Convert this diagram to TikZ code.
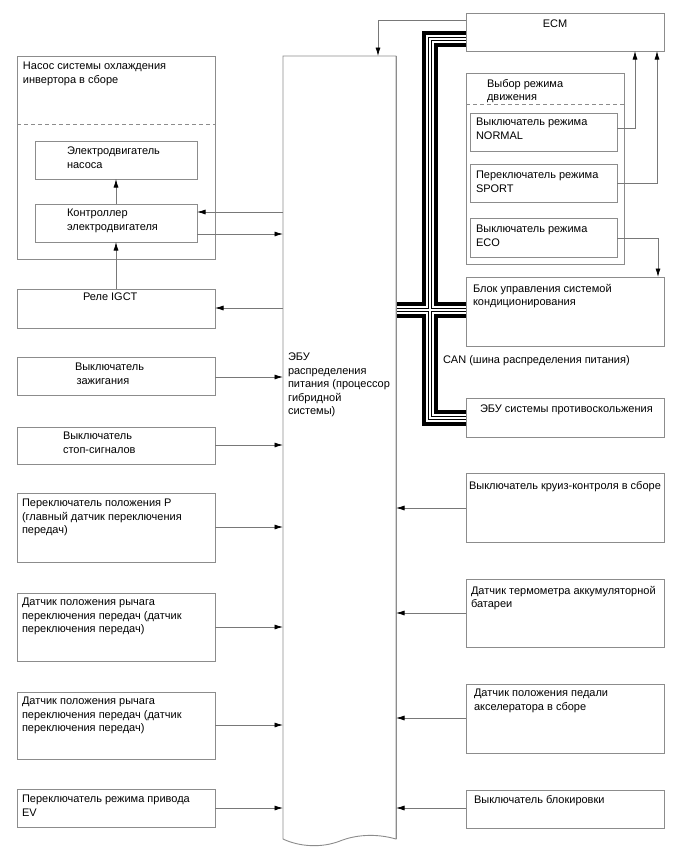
\documentclass[tikz,border=0pt]{standalone}
\usepackage{fontspec}
\setmainfont{Liberation Sans}
\usetikzlibrary{arrows.meta}
\definecolor{boxgray}{RGB}{140,140,140}
\definecolor{linegray}{RGB}{120,120,120}
\begin{document}
\begin{tikzpicture}[x=1pt,y=-1pt,
  box/.style={draw=boxgray, line width=0.9pt, rectangle, inner sep=0pt, outer sep=0pt, anchor=north west},
  lbl/.style={anchor=north west, inner sep=0pt, outer sep=0pt, align=left, font=\fontsize{11}{13.5}\selectfont},
  conn/.style={draw=linegray, line width=0.8pt, -{Latex[length=8.5pt,width=5pt,black]}},
  sep/.style={draw=boxgray, line width=0.9pt, dash pattern=on 4pt off 3pt},
  busA/.style={line width=16pt, black, line join=miter},
  busB/.style={line width=8.5pt, white, line join=miter},
  busC/.style={line width=3.4pt, black, line join=miter},
  busD/.style={line width=1.2pt, white, line join=miter}]
\useasboundingbox (0,0) rectangle (688,852);
\fill[white] (0,0) rectangle (688,852);

% ---------- left column boxes ----------
\node[box, minimum width=198pt, minimum height=203pt] (pump) at (17,56) {};
\node[box, minimum width=162pt, minimum height=38pt] (motor) at (35,141) {};
\node[box, minimum width=162pt, minimum height=38pt] (ctrl) at (35,204) {};
\node[box, minimum width=198pt, minimum height=39pt] (relay) at (17,289) {};
\node[box, minimum width=198pt, minimum height=38pt] (ign) at (17,357) {};
\node[box, minimum width=198pt, minimum height=37pt] (stop) at (17,427) {};
\node[box, minimum width=198pt, minimum height=69pt] (pswitch) at (17,493) {};
\node[box, minimum width=198pt, minimum height=68pt] (lever1) at (17,593) {};
\node[box, minimum width=198pt, minimum height=67pt] (lever2) at (17,692) {};
\node[box, minimum width=198pt, minimum height=38pt] (ev) at (17,789) {};
\draw[sep] (pump.west |- 0,124) -- (pump.east |- 0,124);

% ---------- ECU ----------
\node[rectangle, inner sep=0pt, outer sep=0pt, anchor=north west, minimum width=113pt, minimum height=784pt] (ecu) at (283,56) {};
\draw[boxgray, line width=0.9pt] (283,839) -- (ecu.north west) -- (ecu.north east) -- (396,839)
  .. controls (375,833) and (355,835) .. (340,841)
  .. controls (322,848) and (300,847) .. (283,839);

% ---------- right column boxes ----------
\node[box, minimum width=198pt, minimum height=38pt] (ecm) at (466,13) {};
\node[box, minimum width=158pt, minimum height=191pt] (mode) at (466,73) {};
\node[box, minimum width=147pt, minimum height=38pt] (normal) at (470,113) {};
\node[box, minimum width=147pt, minimum height=38pt] (sport) at (470,164) {};
\node[box, minimum width=147pt, minimum height=39pt] (eco) at (470,218) {};
\node[box, minimum width=198pt, minimum height=69pt] (ac) at (466,277) {};
\node[box, minimum width=198pt, minimum height=39pt] (esp) at (466,398) {};
\node[box, minimum width=198pt, minimum height=69pt] (cruise) at (466,473) {};
\node[box, minimum width=198pt, minimum height=68pt] (batt) at (466,579) {};
\node[box, minimum width=198pt, minimum height=69pt] (accel) at (466,684) {};
\node[box, minimum width=198pt, minimum height=38pt] (lock) at (466,790) {};
\draw[sep] (mode.west |- 0,104) -- (mode.east |- 0,104);

% ---------- CAN bus ----------
\coordinate (busTL) at (430,39);
\coordinate (busBL) at (430,418);
\coordinate (busX) at (430,310);
\foreach \lay in {busA,busB,busC,busD}{
  \draw[\lay] (ecm.west |- busTL) -- (busTL) -- (busBL) -- (esp.west |- busBL);
  \draw[\lay] (ecu.east |- busX) -- (ac.west |- busX);
}
\draw[boxgray, line width=0.9pt] (ecu.north east) -- (396,839);
\draw[boxgray, line width=0.9pt] (ecm.north west) -- (ecm.south west);
\draw[boxgray, line width=0.9pt] (ac.north west) -- (ac.south west);
\draw[boxgray, line width=0.9pt] (esp.north west) -- (esp.south west);

% ---------- labels ----------
\node[lbl] (tpump) at (23,62) {Насос системы охлаждения\\инвертора в сборе};
\node[lbl] (tmotor) at (67,147) {Электродвигатель\\насоса};
\node[lbl] (tctrl) at (67,209) {Контроллер\\электродвигателя};
\node[lbl] (trelay) at (83,293) {Реле IGCT};
\node[lbl] (tign) at (75,363) {Выключатель\\\hspace*{1.5pt}зажигания};
\node[lbl] (tstop) at (63,432) {Выключатель\\стоп-сигналов};
\node[lbl] (tp) at (22,499) {Переключатель положения P\\(главный датчик переключения\\передач)};
\node[lbl] (tl1) at (22,598) {Датчик положения рычага\\переключения передач (датчик\\переключения передач)};
\node[lbl] (tl2) at (22,697) {Датчик положения рычага\\переключения передач (датчик\\переключения передач)};
\node[lbl] (tev) at (22,795) {Переключатель режима привода\\EV};
\node[lbl] (tecu) at (288,353) {ЭБУ\\распределения\\питания (процессор\\гибридной\\системы)};
\node[lbl, anchor=north] (tecm) at (555,20) {ECM};
\node[lbl] (tmode) at (487,79) {Выбор режима\\движения};
\node[lbl] (tnormal) at (476,118) {Выключатель режима\\NORMAL};
\node[lbl] (tsport) at (476,171) {Переключатель режима\\SPORT};
\node[lbl] (teco) at (476,225) {Выключатель режима\\ECO};
\node[lbl] (tac) at (473,284) {Блок управления системой\\кондиционирования};
\node[lbl] (tcan) at (443,356) {CAN (шина распределения питания)};
\node[lbl] (tesp) at (480,405) {ЭБУ системы противоскольжения};
\node[lbl] (tcruise) at (469,481) {Выключатель круиз-контроля в сборе};
\node[lbl] (tbatt) at (471,586) {Датчик термометра аккумуляторной\\батареи};
\node[lbl] (taccel) at (474,689) {Датчик положения педали\\акселератора в сборе};
\node[lbl] (tlock) at (474,795) {Выключатель блокировки};

% ---------- connectors ----------
\draw[conn] (ecm.west |- 0,20) -| (ecu.north -| 378,0);
\draw[conn] (normal.east |- 0,128) -| (ecm.south -| 635,0);
\draw[conn] (sport.east |- 0,183) -| (ecm.south -| 657,0);
\draw[conn] (eco.east |- 0,238) -| (ac.north -| 658,0);
\draw[conn] (ecu.west |- 0,212) -- (ctrl.east |- 0,212);
\draw[conn] (ctrl.east |- 0,234) -- (ecu.west |- 0,234);
\draw[conn] (ctrl.north) -- (motor.south);
\draw[conn] (relay.north) -- (ctrl.south);
\draw[conn] (ecu.west |- 0,308) -- (relay.east |- 0,308);
\draw[conn] (ign.east |- 0,377) -- (ecu.west |- 0,377);
\draw[conn] (stop.east |- 0,445) -- (ecu.west |- 0,445);
\draw[conn] (pswitch.east |- 0,527) -- (ecu.west |- 0,527);
\draw[conn] (lever1.east |- 0,627) -- (ecu.west |- 0,627);
\draw[conn] (lever2.east |- 0,725) -- (ecu.west |- 0,725);
\draw[conn] (ev.east |- 0,808) -- (ecu.west |- 0,808);
\draw[conn] (cruise.west |- 0,508) -- (ecu.east |- 0,508);
\draw[conn] (batt.west |- 0,613) -- (ecu.east |- 0,613);
\draw[conn] (accel.west |- 0,718) -- (ecu.east |- 0,718);
\draw[conn] (lock.west |- 0,808) -- (ecu.east |- 0,808);
\end{tikzpicture}
\end{document}
